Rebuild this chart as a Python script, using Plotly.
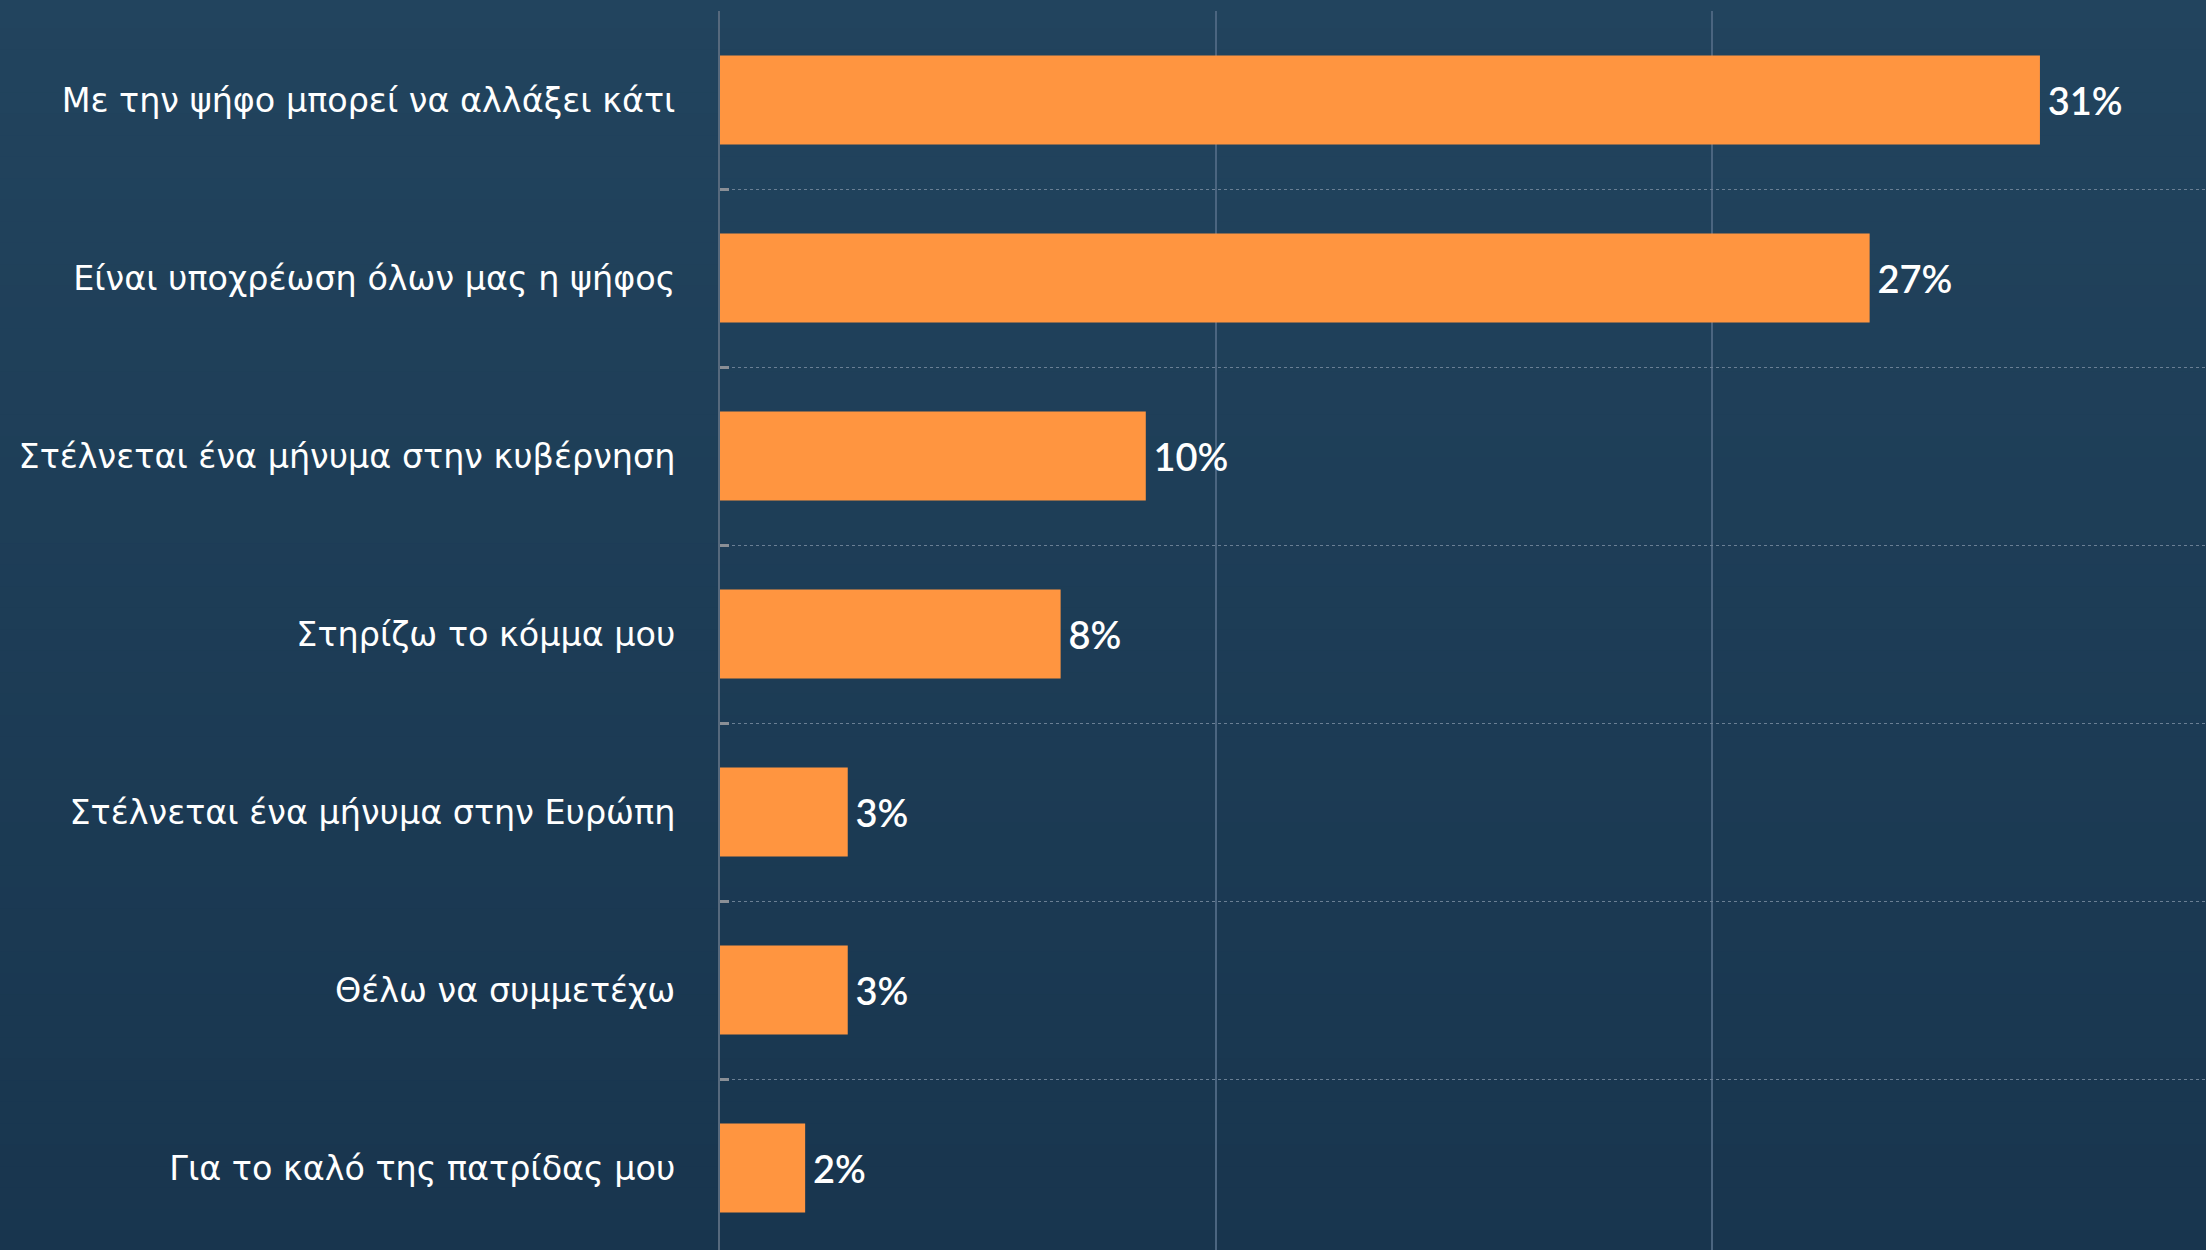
import plotly.graph_objects as go

categories = [
    "Με την ψήφο μπορεί να αλλάξει κάτι",
    "Είναι υποχρέωση όλων μας η ψήφος",
    "Στέλνεται ένα μήνυμα στην κυβέρνηση",
    "Στηρίζω το κόμμα μου",
    "Στέλνεται ένα μήνυμα στην Ευρώπη",
    "Θέλω να συμμετέχω",
    "Για το καλό της πατρίδας μου",
]
values = [31, 27, 10, 8, 3, 3, 2]
x_ticks = [0, 11.65, 23.3]

W, H = 2206, 1250
top_col = (34, 68, 94)
bot_col = (24, 53, 78)

fig = go.Figure()
fig.add_trace(go.Bar(
    x=values, y=categories, orientation="h",
    marker=dict(color="#FF9540", line=dict(width=0)),
    width=0.5,
    texttemplate="\u2009%{x}%", textposition="outside", cliponaxis=False,
    textfont=dict(family="Lato", size=38, color="white", weight=600),
    hoverinfo="skip",
))

# vertical gradient background
shapes = []
n = 60
for i in range(n):
    t = i / (n - 1)
    c = tuple(round(top_col[k] + (bot_col[k] - top_col[k]) * t) for k in range(3))
    shapes.append(dict(type="rect", xref="paper", yref="paper",
                       x0=-1, x1=2, y0=1.02 - (i + 1) / n * 1.04, y1=1.02 - i / n * 1.04 + 0.001,
                       fillcolor="rgb(%d,%d,%d)" % c, line=dict(width=0), layer="below"))

fig.update_layout(
    width=W, height=H,
    margin=dict(l=720, r=0, t=11, b=0),
    paper_bgcolor="rgb(30,60,86)",
    plot_bgcolor="rgba(0,0,0,0)",
    shapes=shapes,
    showlegend=False,
    xaxis=dict(range=[0, 34.9], tickvals=x_ticks, showticklabels=False,
               showgrid=True, gridcolor="#4B6580", gridwidth=2,
               zeroline=False, showline=False, fixedrange=True),
    yaxis=dict(range=[6.46, -0.5], tickson="boundaries",
               showgrid=True, gridcolor="#6A7F94", gridwidth=1, griddash="dot",
               ticks="inside", ticklen=9, tickwidth=3, tickcolor="#8A8F96",
               showline=True, linecolor="#56697D", linewidth=2,
               tickfont=dict(family="DejaVu Sans", size=33.4, color="white"),
               ticklabelstandoff=36, zeroline=False),
)

fig.write_html("out.html", config={"displayModeBar": False},
               post_script="document.body.style.margin='0';document.body.style.background='rgb(30,60,86)';")
